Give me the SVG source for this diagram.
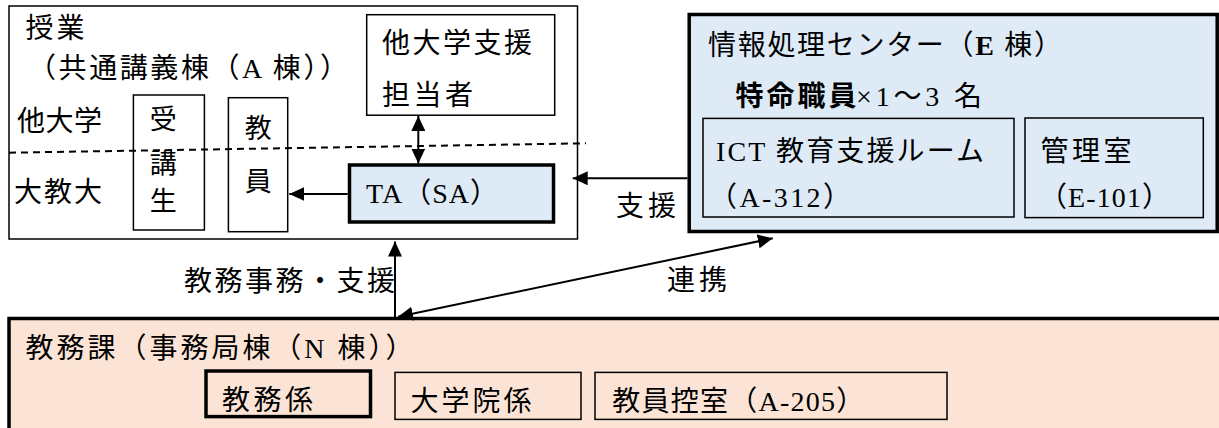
<svg xmlns="http://www.w3.org/2000/svg" width="1219" height="428" viewBox="0 0 1219 428">
<style>
text{font-family:"Liberation Serif","Noto Sans CJK JP",serif;font-size:28px;fill:#000}
.v{text-anchor:middle;font-size:27px}
.box{fill:#fff;stroke:#000;stroke-width:1.5}
.thin{fill:none;stroke:#000;stroke-width:1.5}
.blue{fill:#DEEBF7}
.peach{fill:#FBE4D5}
.thick{stroke:#000;stroke-width:3.5}
.con{fill:none;stroke:#000;stroke-width:2}
.dash{fill:none;stroke:#000;stroke-width:2;stroke-dasharray:7 5}
</style>
<defs>
<marker id="ah" markerUnits="userSpaceOnUse" markerWidth="16" markerHeight="14" refX="15" refY="7" orient="auto-start-reverse">
<path d="M0,0 L15,7 L0,14 Z" fill="#000"/>
</marker>
</defs>

<g id="class">
<rect class="box" x="9" y="6" width="568.5" height="233"/>
<text x="25.5" y="38" textLength="59" lengthAdjust="spacing">授業</text>
<text x="28" y="78" font-size="25" textLength="320" lengthAdjust="spacing">（共通講義棟（A 棟））</text>
<text x="17" y="131" textLength="85" lengthAdjust="spacing">他大学</text>
<text x="14" y="202" textLength="88" lengthAdjust="spacing">大教大</text>
</g>

<g id="students">
<rect class="thin" x="133.4" y="95" width="71" height="135"/>
<text class="v" x="163.3" y="129">受</text>
<text class="v" x="163.3" y="173">講</text>
<text class="v" x="163.3" y="211">生</text>
</g>

<g id="teacher">
<rect class="thin" x="228.4" y="97.7" width="59.3" height="134"/>
<text class="v" x="258.3" y="138">教</text>
<text class="v" x="258.3" y="191">員</text>
</g>

<g id="support-staff">
<rect class="box" x="366.7" y="14.7" width="188" height="100.5"/>
<text x="382" y="53" textLength="150" lengthAdjust="spacing">他大学支援</text>
<text x="382" y="105" textLength="91" lengthAdjust="spacing">担当者</text>
</g>

<g id="ta">
<rect class="blue thick" x="349.5" y="165" width="204" height="57"/>
<text x="366" y="203" textLength="132" lengthAdjust="spacing">TA（SA）</text>
</g>

<g id="center">
<rect class="blue thick" x="689.2" y="14.5" width="528" height="217"/>
<text x="708" y="55" textLength="354" lengthAdjust="spacing">情報処理センター（<tspan font-weight="bold">E</tspan> 棟）</text>
<text x="735.5" y="106" font-weight="bold" textLength="121" lengthAdjust="spacing">特命職員</text>
<text x="856" y="106" textLength="126" lengthAdjust="spacing">×1～3 名</text>
</g>

<g id="ict-room">
<rect class="thin" x="703" y="118.4" width="311" height="98.6"/>
<text x="716" y="161" textLength="268" lengthAdjust="spacing">ICT 教育支援ルーム</text>
<text x="709" y="207" textLength="142" lengthAdjust="spacing">（A-312）</text>
</g>

<g id="admin-room">
<rect class="thin" x="1025" y="118" width="178.3" height="99.6"/>
<text x="1040.5" y="161" textLength="91" lengthAdjust="spacing">管理室</text>
<text x="1039" y="207" textLength="131" lengthAdjust="spacing">（E-101）</text>
</g>

<g id="academic-affairs">
<rect class="peach thick" x="9" y="318.5" width="1215" height="115"/>
<text x="25.5" y="358" textLength="388" lengthAdjust="spacing">教務課（事務局棟（N 棟））</text>
</g>

<g id="kyomu">
<rect class="thick" fill="none" x="206" y="371" width="164.5" height="45.6"/>
<text x="222" y="410" textLength="91" lengthAdjust="spacing">教務係</text>
</g>

<g id="graduate">
<rect class="thin" x="395" y="372.4" width="186" height="47"/>
<text x="410.5" y="411" textLength="121" lengthAdjust="spacing">大学院係</text>
</g>

<g id="faculty-room">
<rect class="thin" x="595" y="372.4" width="352" height="47"/>
<text x="612.3" y="411" textLength="252" lengthAdjust="spacing">教員控室（A-205）</text>
</g>

<g id="divider">
<line class="dash" x1="9" y1="152.7" x2="586" y2="143.3"/>
</g>

<g id="connectors">
<line class="con" x1="418.3" y1="116" x2="418.3" y2="163.5" marker-start="url(#ah)" marker-end="url(#ah)"/>
<line class="con" x1="347.7" y1="194" x2="289.3" y2="194" marker-end="url(#ah)"/>
<line class="con" x1="687.5" y1="178.3" x2="572.7" y2="178.3" marker-end="url(#ah)"/>
<line class="con" x1="395" y1="317" x2="395" y2="241.5" marker-end="url(#ah)"/>
<line class="con" x1="398" y1="316.7" x2="772.8" y2="238.3" marker-start="url(#ah)" marker-end="url(#ah)"/>
<text x="616" y="216" textLength="60" lengthAdjust="spacing">支援</text>
<text x="184" y="291" textLength="211" lengthAdjust="spacing">教務事務・支援</text>
<text x="667" y="290" textLength="60" lengthAdjust="spacing">連携</text>
</g>
</svg>
